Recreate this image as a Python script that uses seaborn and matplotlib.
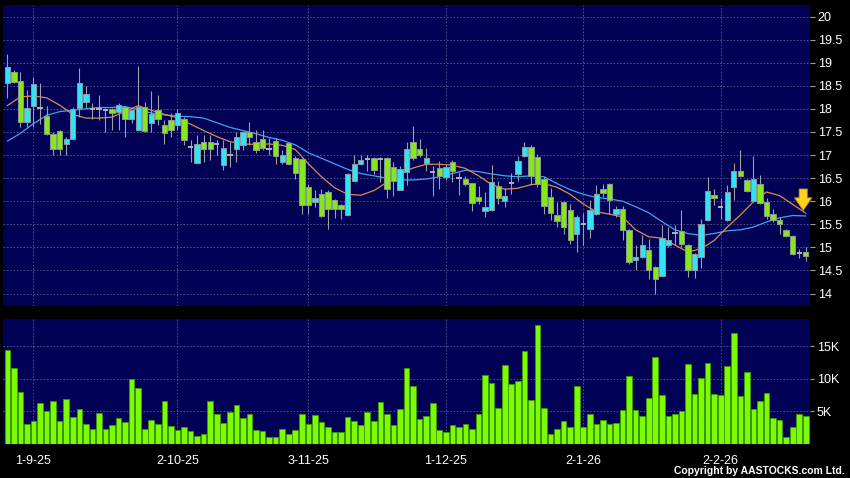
import numpy as np
import pandas as pd
import matplotlib
matplotlib.use("Agg")
import matplotlib.pyplot as plt
import seaborn as sns

# daily candles (HK$), one per session
opens = [18.57, 18.79, 18.60, 17.71, 18.07, 18.02, 17.84, 17.46, 17.51, 17.24,
         17.34, 18.01, 18.15, 17.99, 18.00, 17.98, 17.99, 17.94, 18.03, 17.77,
         17.54, 18.04, 17.69, 17.97, 17.66, 17.75, 17.65, 17.79, 17.18, 16.82,
         17.29, 17.29, 17.23, 16.79, 17.00, 17.14, 17.21, 17.50, 17.29, 17.35,
         17.14, 17.31, 16.84, 17.25, 16.94, 16.91, 16.31, 15.99, 16.15, 16.20,
         16.03, 15.92, 15.71, 16.43, 16.81, 16.92, 16.94, 16.92, 16.94, 16.74,
         16.24, 16.63, 17.29, 17.13, 16.82, 16.63, 16.71, 16.52, 16.86, 16.50,
         16.48, 16.39, 16.09, 15.79, 15.81, 16.32, 16.00, 16.40, 16.60, 16.99,
         17.18, 16.95, 16.49, 16.10, 15.71, 15.98, 15.82, 15.30, 15.50, 15.40,
         15.73, 16.26, 16.37, 15.72, 15.84, 15.37, 14.72, 14.80, 14.94, 14.58,
         14.39, 15.06, 15.31, 15.36, 15.06, 14.50, 14.79, 15.60, 16.14, 15.88,
         15.60, 16.30, 16.66, 16.45, 16.00, 16.38, 15.98, 15.73, 15.60, 15.37,
         15.25, 14.88, 14.90]
highs = [19.19, 18.85, 18.79, 18.41, 18.68, 18.57, 18.07, 17.50, 17.55, 17.39,
         18.05, 18.88, 18.49, 18.12, 18.31, 18.02, 18.02, 18.12, 18.05, 18.00,
         18.92, 18.15, 18.38, 18.31, 17.75, 17.90, 18.00, 17.83, 17.32, 17.43,
         17.43, 17.43, 17.32, 17.32, 17.29, 17.50, 17.52, 17.72, 17.54, 17.54,
         17.36, 17.36, 17.10, 17.28, 16.97, 16.93, 16.38, 16.24, 16.27, 16.24,
         16.05, 15.94, 16.62, 17.00, 17.00, 17.00, 16.96, 16.96, 16.96, 16.85,
         16.77, 17.28, 17.62, 17.35, 17.15, 16.77, 16.88, 16.79, 16.89, 16.63,
         16.55, 16.40, 16.34, 16.21, 16.79, 16.44, 16.29, 16.62, 16.97, 17.29,
         17.22, 17.02, 16.52, 16.28, 15.99, 16.00, 15.95, 15.70, 15.75, 16.02,
         16.36, 16.38, 16.40, 15.90, 15.90, 15.40, 15.05, 15.26, 15.19, 14.60,
         15.48, 15.44, 15.48, 15.80, 15.08, 14.87, 15.62, 16.53, 16.27, 16.06,
         16.35, 16.82, 17.10, 16.48, 16.98, 16.56, 16.08, 15.84, 15.65, 15.40,
         15.27, 14.97, 15.01]
lows = [18.23, 18.55, 17.61, 17.60, 17.60, 17.68, 17.43, 17.01, 17.00, 17.01,
        17.34, 17.83, 18.01, 17.79, 17.76, 17.50, 17.54, 17.55, 17.39, 17.70,
        17.54, 17.50, 17.50, 17.65, 17.23, 17.38, 17.54, 17.21, 16.85, 16.82,
        16.85, 16.89, 17.00, 16.67, 16.74, 16.84, 17.10, 17.21, 17.05, 17.10,
        17.00, 16.81, 16.80, 16.78, 16.49, 15.73, 15.73, 15.87, 15.66, 15.40,
        15.64, 15.62, 15.71, 16.43, 16.78, 16.65, 16.60, 16.42, 16.06, 16.11,
        16.24, 16.35, 16.90, 16.95, 16.66, 16.12, 16.26, 16.45, 16.41, 16.14,
        16.32, 15.79, 15.94, 15.66, 15.79, 15.94, 15.87, 16.15, 16.43, 16.95,
        16.35, 16.31, 15.73, 15.60, 15.45, 15.30, 15.08, 14.90, 15.05, 15.20,
        15.70, 16.10, 15.73, 15.65, 15.15, 14.65, 14.50, 14.78, 14.32, 14.00,
        14.37, 15.00, 15.05, 15.00, 14.36, 14.34, 14.55, 15.58, 15.91, 15.62,
        15.58, 16.02, 16.52, 16.20, 15.98, 15.95, 15.62, 15.55, 15.30, 15.22,
        14.83, 14.78, 14.70]
closes = [18.90, 18.59, 17.71, 18.02, 18.53, 18.02, 17.45, 17.13, 17.13, 17.34,
          18.00, 18.57, 18.33, 17.99, 18.00, 17.98, 17.92, 18.09, 17.77, 17.97,
          18.04, 17.52, 17.89, 17.77, 17.47, 17.55, 17.90, 17.32, 17.18, 17.24,
          17.12, 17.14, 17.23, 17.15, 17.00, 17.39, 17.49, 17.39, 17.10, 17.16,
          17.14, 16.98, 17.01, 16.80, 16.62, 15.92, 15.92, 16.07, 15.68, 15.84,
          15.84, 15.84, 16.60, 16.81, 16.89, 16.92, 16.67, 16.92, 16.26, 16.44,
          16.69, 17.12, 16.94, 17.00, 16.94, 16.63, 16.54, 16.75, 16.65, 16.50,
          16.37, 15.96, 16.01, 15.87, 16.42, 16.06, 16.11, 16.40, 16.87, 17.18,
          16.55, 16.37, 15.90, 15.74, 15.58, 15.44, 15.17, 15.65, 15.50, 15.82,
          16.15, 16.17, 16.02, 15.84, 15.37, 14.68, 14.80, 15.05, 14.52, 14.32,
          15.21, 15.15, 15.31, 15.07, 14.50, 14.85, 15.51, 16.22, 16.08, 15.88,
          16.20, 16.66, 16.55, 16.22, 16.49, 15.97, 15.67, 15.60, 15.50, 15.25,
          14.86, 14.88, 14.81]
volume_k = [14.4, 11.7, 8.0, 3.0, 3.4, 6.3, 5.0, 6.5, 3.4, 6.8,
            4.1, 5.3, 3.0, 2.2, 4.7, 2.3, 2.9, 3.9, 3.3, 10.0,
            8.5, 2.2, 3.6, 3.0, 6.5, 2.7, 2.1, 2.6, 1.9, 1.2,
            1.5, 6.6, 4.6, 3.2, 4.8, 5.9, 3.9, 4.5, 2.1, 1.9,
            1.0, 1.0, 2.3, 1.5, 2.1, 4.5, 3.0, 4.4, 3.3, 2.5,
            1.8, 1.8, 4.1, 3.4, 2.9, 4.9, 3.4, 6.4, 4.6, 2.8,
            5.3, 11.6, 8.9, 3.8, 4.2, 6.2, 2.1, 1.8, 2.9, 2.5,
            3.0, 2.2, 4.5, 10.6, 9.4, 5.5, 12.1, 9.1, 9.7, 14.2,
            6.7, 18.3, 5.5, 1.5, 2.3, 3.5, 2.5, 8.8, 2.5, 4.6,
            3.0, 3.6, 3.0, 3.2, 5.1, 10.4, 5.1, 4.2, 7.0, 13.3,
            7.5, 4.2, 4.5, 5.0, 12.3, 7.6, 10.1, 12.4, 7.7, 7.5,
            12.0, 17.0, 7.4, 11.1, 5.3, 6.5, 7.8, 4.0, 3.7, 1.0,
            2.5, 4.5, 4.2]

# moving averages, read every second session
ma_step = 2
ma_fast = [18.07, 18.26, 18.28, 18.24, 18.08, 17.88, 17.80, 17.80, 17.82, 17.95,
           18.07, 17.97, 17.88, 17.81, 17.67, 17.53, 17.40, 17.29, 17.24, 17.23,
           17.24, 17.21, 17.12, 16.81, 16.53, 16.29, 16.15, 16.13, 16.23, 16.41,
           16.60, 16.72, 16.80, 16.80, 16.78, 16.71, 16.55, 16.36, 16.26, 16.28,
           16.36, 16.38, 16.30, 16.15, 15.94, 15.77, 15.72, 15.66, 15.38, 15.23,
           15.20, 15.05, 14.90, 14.97, 15.15, 15.44, 15.70, 15.99, 16.20, 16.12,
           15.93, 15.74]
ma_slow = [17.30, 17.47, 17.68, 17.86, 17.94, 17.97, 18.00, 18.03, 18.03, 18.05,
           17.98, 17.91, 17.87, 17.84, 17.83, 17.80, 17.70, 17.60, 17.53, 17.46,
           17.38, 17.32, 17.22, 17.05, 16.93, 16.81, 16.69, 16.60, 16.55, 16.50,
           16.46, 16.46, 16.48, 16.53, 16.60, 16.67, 16.64, 16.59, 16.55, 16.53,
           16.55, 16.53, 16.38, 16.25, 16.15, 16.08, 16.05, 16.00, 15.88, 15.75,
           15.56, 15.38, 15.30, 15.26, 15.30, 15.36, 15.38, 15.44, 15.55, 15.64,
           15.69, 15.68]

date_labels = ["1-9-25", "2-10-25", "3-11-25", "1-12-25", "2-1-26", "2-2-26"]
date_sessions = [4, 26, 46, 67, 88, 109]
price_ticks = np.arange(14, 20.01, 0.5)
vol_ticks = [5, 10, 15]

df = pd.DataFrame({"open": opens, "high": highs, "low": lows,
                   "close": closes, "vol": volume_k})
df["i"] = np.arange(len(df))
ma = pd.DataFrame({"i": np.arange(0, len(df), ma_step), "fast": ma_fast, "slow": ma_slow})

sns.set_theme(style="dark")
plt.rcParams["font.family"] = ["Liberation Sans", "DejaVu Sans"]

BG = "#000055"
GRID = "#5c5c95"
fig = plt.figure(figsize=(8.5, 4.78), dpi=100, facecolor="black")
W, H = 850, 478
ax = fig.add_axes([3 / W, 1 - 306 / H, 807 / W, 301 / H])
axv = fig.add_axes([3 / W, 1 - 443.5 / H, 807 / W, 124.5 / H])

for a in (ax, axv):
    a.set_facecolor(BG)
    for s in a.spines.values():
        s.set_visible(False)
    a.grid(True, color=GRID, linestyle=(0, (2, 2)), linewidth=0.6)
    a.set_axisbelow(True)

# moving averages behind the candles
sns.lineplot(data=ma, x="i", y="slow", ax=ax, color="#3ea6f0", linewidth=0.9, zorder=1.5)
sns.lineplot(data=ma, x="i", y="fast", ax=ax, color="#e08a50", linewidth=0.9, zorder=1.6)

up = df[df.close > df.open]
dn = df[df.close < df.open]
flat = df[df.close == df.open]
ax.vlines(df.i, df.low, df.high, color="#a0a0a0", linewidth=0.8, zorder=2)
ax.bar(up.i, up.close - up.open, bottom=up.open, width=0.82, color="#30e4f4",
       edgecolor="#8a9ca4", linewidth=0.7, zorder=3)
ax.bar(dn.i, dn.open - dn.close, bottom=dn.close, width=0.82, color="#86e81c",
       edgecolor="#8a9c88", linewidth=0.7, zorder=3)
ax.hlines(flat.close, flat.i - 0.41, flat.i + 0.41, color="#b4b4b4", linewidth=1.4, zorder=3)

# marker on the last value of the fast average
ax.annotate("", xy=(ma.i.iloc[-1] - 0.4, ma.fast.iloc[-1]), xytext=(0, 27),
            textcoords="offset pixels",
            arrowprops=dict(arrowstyle="simple,head_length=0.65,head_width=0.9,tail_width=0.42",
                            fc="#ffd21f", ec="#b88a00", lw=0.6, mutation_scale=14),
            zorder=5)

xlim = (-0.66, len(df) - 0.36)
ax.set_xlim(*xlim)
ax.set_ylim(13.73, 20.25)
ax.set_xticks(date_sessions)
ax.set_xticklabels([])
ax.tick_params(axis="x", length=0)
ax.yaxis.tick_right()
ax.set_yticks(price_ticks)
ax.set_yticklabels([f"{t:g}" for t in price_ticks])
ax.tick_params(axis="y", colors="#a0a0a0", labelcolor="white", labelsize=9,
               length=3.5, width=0.8, pad=2, direction="out")
ax.set_xlabel("")
ax.set_ylabel("")

# volume
sns.barplot(data=df, x="i", y="vol", ax=axv, native_scale=True, color="#7cfc00",
            saturation=1, width=0.86, edgecolor="#3d9a00", linewidth=0.6)
axv.set_xlim(*xlim)
axv.set_ylim(0, 19.2)
axv.set_xticks(date_sessions)
axv.set_xticklabels(date_labels)
axv.yaxis.tick_right()
axv.set_yticks(vol_ticks)
axv.set_yticklabels([f"{t}K" for t in vol_ticks])
axv.tick_params(axis="both", colors="#a0a0a0", labelcolor="white", labelsize=9,
                length=3, width=0.8, pad=2, direction="out")
axv.tick_params(axis="x", pad=5)
axv.set_xlabel("")
axv.set_ylabel("")

fig.text(845 / W, 1 - 471 / H, "Copyright by AASTOCKS.com Ltd.", ha="right", va="center",
         color="white", fontsize=7.5, fontweight="bold")

fig.savefig("out.png", dpi=100, facecolor="black")
